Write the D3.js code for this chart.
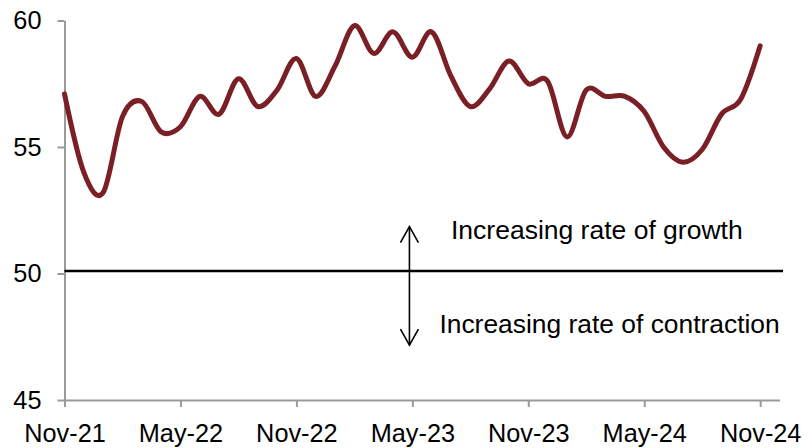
<!DOCTYPE html>
<html>
<head>
<meta charset="utf-8">
<script src="https://cdn.jsdelivr.net/npm/d3@7"></script>
<style>
  html, body { margin: 0; padding: 0; background: #ffffff; }
  svg { display: block; }
  text { font-family: "Liberation Sans", Arial, sans-serif; fill: #000; }
</style>
</head>
<body>
<svg id="chart" width="809" height="448"></svg>
<script>
// Monthly index readings, Nov-21 .. Nov-24
const months = [
  "Nov-21","Dec-21","Jan-22","Feb-22","Mar-22","Apr-22","May-22","Jun-22","Jul-22","Aug-22",
  "Sep-22","Oct-22","Nov-22","Dec-22","Jan-23","Feb-23","Mar-23","Apr-23","May-23","Jun-23",
  "Jul-23","Aug-23","Sep-23","Oct-23","Nov-23","Dec-23","Jan-24","Feb-24","Mar-24","Apr-24",
  "May-24","Jun-24","Jul-24","Aug-24","Sep-24","Oct-24","Nov-24"
];
const values = [
  57.1, 54.0, 53.2, 56.2, 56.8, 55.6, 55.8, 57.0, 56.3, 57.7,
  56.6, 57.25, 58.5, 57.0, 58.2, 59.8, 58.7, 59.55, 58.55, 59.55,
  57.8, 56.6, 57.3, 58.4, 57.5, 57.6, 55.4, 57.25, 57.0, 57.0,
  56.4, 55.0, 54.4, 54.9, 56.3, 56.9, 59.0
];
const yTicks = [45, 50, 55, 60];
const xTickLabels = ["Nov-21","May-22","Nov-22","May-23","Nov-23","May-24","Nov-24"];
const neutralLevel = 50.1;
const annotations = ["Increasing rate of growth", "Increasing rate of contraction"];

const svg = d3.select("#chart");
const plotLeft = 64.5, plotRight = 779.5, plotTop = 20.5, plotBottom = 400;

const x = d3.scaleLinear().domain([0, months.length]).range([plotLeft, plotRight]);
const y = d3.scaleLinear().domain([45, 60]).range([plotBottom, plotTop]);

// Axes
const axisColor = "#9a9a9a";
const yAxis = svg.append("g")
  .attr("transform", `translate(${plotLeft},0)`)
  .call(d3.axisLeft(y).tickValues(yTicks).tickSize(7).tickSizeOuter(0).tickPadding(16).tickFormat(d3.format("d")));
const xTickIdx = xTickLabels.map(l => months.indexOf(l));
const xAxis = svg.append("g")
  .attr("transform", `translate(0,${plotBottom})`)
  .call(d3.axisBottom(x).tickValues(xTickIdx).tickSize(7).tickSizeOuter(0).tickPadding(17)
    .tickFormat(i => months[i]));

[yAxis, xAxis].forEach(g => {
  g.select(".domain").attr("stroke", axisColor).attr("stroke-width", 2);
  g.selectAll(".tick line").attr("stroke", axisColor).attr("stroke-width", 2);
  g.selectAll(".tick text").attr("font-size", 25.3).attr("fill", "#000")
    .style("font-family", "'Liberation Sans', Arial, sans-serif");
});

// Neutral 50 line
svg.append("line")
  .attr("x1", x(0)).attr("x2", x(months.length) + 3.5)
  .attr("y1", y(neutralLevel)).attr("y2", y(neutralLevel))
  .attr("stroke", "#000").attr("stroke-width", 2.5);

// Double-headed arrow across the neutral line
const ax = x(17.85), ayTop = y(51.85), ayBot = y(47.17);
const arrow = svg.append("g").attr("stroke", "#000").attr("stroke-width", 1.6).attr("fill", "none");
arrow.append("line").attr("x1", ax).attr("x2", ax).attr("y1", ayTop).attr("y2", ayBot);
arrow.append("path").attr("d", `M${ax - 9},${ayTop + 16} L${ax},${ayTop} L${ax + 9},${ayTop + 16}`);
arrow.append("path").attr("d", `M${ax - 9},${ayBot - 16} L${ax},${ayBot} L${ax + 9},${ayBot - 16}`);

svg.append("text").attr("x", x(20.0)).attr("y", y(51.38))
  .attr("font-size", 26.5).text(annotations[0]);
svg.append("text").attr("x", x(19.4)).attr("y", y(47.65))
  .attr("font-size", 26.4).text(annotations[1]);

// Smoothed series line
const line = d3.line()
  .x((d, i) => x(i))
  .y(d => y(d))
  .curve(d3.curveCardinal.tension(0));
svg.append("path")
  .datum(values)
  .attr("d", line)
  .attr("fill", "none")
  .attr("stroke", "#7b1f27")
  .attr("stroke-width", 5)
  .attr("stroke-linecap", "round")
  .attr("stroke-linejoin", "round");
</script>
</body>
</html>
